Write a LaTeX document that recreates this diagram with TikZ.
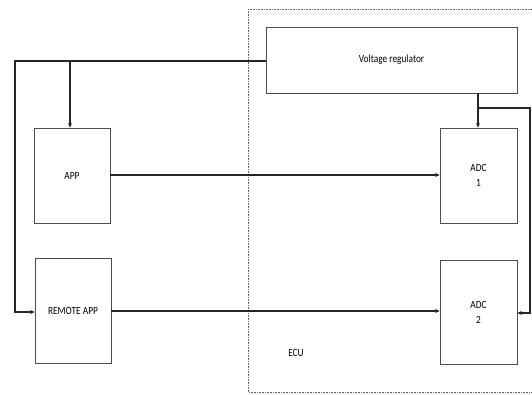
\documentclass[tikz,border=0pt]{standalone}
\usepackage{fontspec}
\setmainfont{Carlito}
\newfontfamily\lblfont[FakeStretch=0.85]{Carlito}
\usetikzlibrary{arrows.meta}
\begin{document}
\begin{tikzpicture}[x=1pt,y=-1pt,
  blk/.style={draw=black!70,line width=0.6pt,fill=white,font=\lblfont\fontsize{11}{13}\selectfont,align=center,inner sep=0pt},
  wire/.style={draw=black!85,line width=1.3pt},
  arr/.style={wire,-{Stealth[length=4.5pt,width=4pt]}}]
\useasboundingbox (0,0) rectangle (532,394);
\draw[black!60,densely dotted,line width=0.6pt] (248,9) -- (535,9) (248,9) -- (248,392) -- (535,392);
\node[blk,minimum width=251,minimum height=66] (vr) at (391.5,60) {Voltage regulator};
\node[blk,minimum width=76,minimum height=95] (app) at (72,175.5) {APP};
\node[blk,minimum width=76,minimum height=105] (rapp) at (73,310.5) {REMOTE APP};
\node[blk,minimum width=77,minimum height=95] (adc1) at (478.5,175.5) {ADC\\[2pt]1};
\node[blk,minimum width=77,minimum height=104] (adc2) at (478.5,312) {ADC\\[2pt]2};
\node[font=\lblfont\fontsize{11}{13}\selectfont] (ecu) at (296,353) {ECU};
\coordinate (tl) at (15,61);
\coordinate (tb) at (70,61);
\coordinate (vb) at (478,108);
\coordinate (rr) at (530,108);
\draw[arr,line join=miter] (vr.west |- tl) -- (tl) -- (15,312) -- (rapp.west |- 0,312);
\draw[arr] (tb) -- (app.north -| tb);
\draw[arr] (app.east |- 0,175) -- (adc1.west |- 0,175);
\draw[arr] (rapp.east |- 0,311) -- (adc2.west |- 0,311);
\draw[arr] (vr.south -| vb) -- (adc1.north -| vb);
\draw[arr,line join=miter] (vb) -- (rr) -- (530,313) -- (adc2.east |- 0,313);
\end{tikzpicture}
\end{document}
